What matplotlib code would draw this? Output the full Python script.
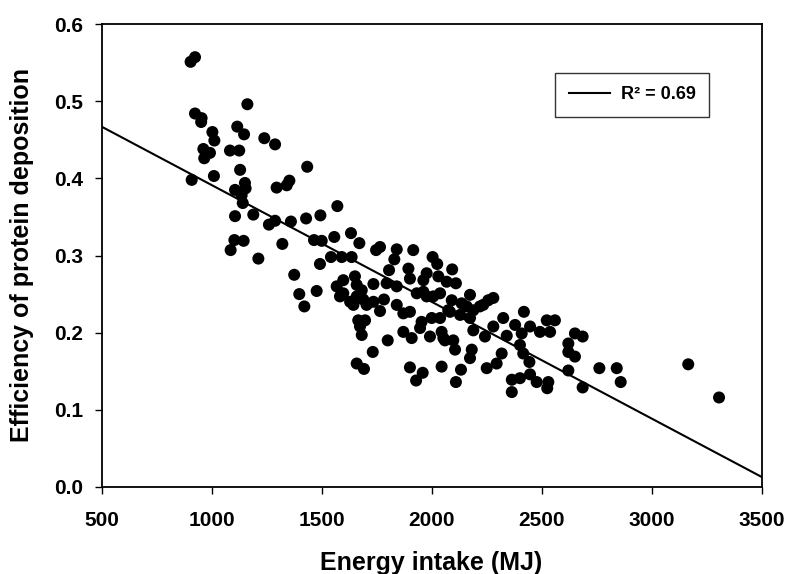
import matplotlib
matplotlib.use("Agg")
import matplotlib.pyplot as plt
import numpy as np

plt.rcParams['font.family'] = ['Liberation Sans', 'DejaVu Sans']
plt.rcParams['font.weight'] = 'bold'

# Data
energy_intake = [
    905, 925, 925, 955, 953, 1163, 1004, 1013, 1117, 1148, 1240, 1289, 963, 993, 967,
    1084, 1126, 1435, 1130, 910, 1011, 1152, 1354, 1342, 1296, 1107, 1155, 1137, 1142,
    1572, 1107, 1190, 1289, 1261, 1361, 1430, 1495, 1104, 1146, 1087, 1322, 1466, 1501,
    1558, 1213, 1493, 1543, 1592,
    1634, 1672, 1637, 1748, 1766, 1842, 1831, 1917, 2005, 2026, 2094, 1895, 1807, 1376,
    1399, 1478, 1422, 1569, 1599, 1652, 1660, 1599, 1630, 1683, 1736, 1796, 1842, 1902,
    1963, 2031, 2069, 2111, 1933, 1978, 2039, 2092, 2137, 2175, 2220, 2258, 1660, 1705,
    1736, 1784, 1766, 1645, 1842, 1872, 1902, 1955, 2001, 2039, 2084, 2130, 2175, 2190,
    2243, 1667, 1698, 1683, 1675, 1801, 1872, 1910, 1948, 1993, 2046, 2061, 2099, 2107,
    1733, 1660, 1693, 1902, 1960, 1930, 2046, 2134, 2111, 2183, 2175, 2251,
    2281, 2420, 2326, 2380, 2448, 2524, 2561, 2539, 2493, 2281, 2342, 2410, 2296, 2319,
    2402, 2417, 2445, 2365, 2402, 2448, 2478, 2531, 2526, 2365, 2622, 2652, 2687, 2622,
    2652, 2622, 2687, 2763, 2842, 2860, 3167, 3307,
    1584, 1690, 1978, 2160, 2235, 2008, 1963, 2076, 2190, 2054,
]
protein_efficiency = [
    0.551, 0.557, 0.484, 0.478, 0.473, 0.496, 0.460, 0.449, 0.467, 0.457, 0.452, 0.444,
    0.438, 0.433, 0.426, 0.436, 0.436, 0.415, 0.411, 0.398, 0.403, 0.394, 0.397, 0.391,
    0.388, 0.385, 0.387, 0.378, 0.368, 0.364, 0.351, 0.353, 0.345, 0.340, 0.344, 0.348,
    0.352, 0.320, 0.319, 0.307, 0.315, 0.320, 0.319, 0.324, 0.296, 0.289, 0.298, 0.298,
    0.329, 0.316, 0.298, 0.307, 0.311, 0.308, 0.295, 0.307, 0.298, 0.289, 0.282, 0.283,
    0.281, 0.275, 0.250, 0.254, 0.234, 0.260, 0.268, 0.273, 0.262, 0.251, 0.240, 0.255,
    0.263, 0.264, 0.260, 0.270, 0.268, 0.273, 0.266, 0.264, 0.251, 0.247, 0.251, 0.242,
    0.238, 0.249, 0.234, 0.242, 0.247, 0.236, 0.240, 0.243, 0.228, 0.236, 0.236, 0.225,
    0.227, 0.214, 0.219, 0.219, 0.227, 0.223, 0.219, 0.203, 0.195, 0.216, 0.216, 0.197,
    0.208, 0.190, 0.201, 0.193, 0.206, 0.195, 0.201, 0.190, 0.190, 0.178, 0.175, 0.160,
    0.153, 0.155, 0.148, 0.138, 0.156, 0.152, 0.136, 0.178, 0.167, 0.154,
    0.245, 0.227, 0.219, 0.210, 0.208, 0.216, 0.216, 0.201, 0.201, 0.208, 0.196, 0.199,
    0.160, 0.173, 0.184, 0.173, 0.162, 0.139, 0.141, 0.146, 0.136, 0.136, 0.128, 0.123,
    0.186, 0.199, 0.195, 0.175, 0.169, 0.151, 0.129, 0.154, 0.154, 0.136, 0.159, 0.116,
    0.247, 0.243, 0.277, 0.234, 0.236, 0.247, 0.253, 0.229, 0.229, 0.193,
]

# Regression line
fit_intercept = 0.5427
fit_slope = -0.0001513
fit_x_range = [500, 3500]
r_squared_label = "R² = 0.69"

x_ticks = [500, 1000, 1500, 2000, 2500, 3000, 3500]
y_ticks = [0.0, 0.1, 0.2, 0.3, 0.4, 0.5, 0.6]

fig = plt.figure(figsize=(7.87, 5.74), dpi=100)
ax = fig.add_axes([101.5 / 787, 1 - 487 / 574, 660 / 787, 463 / 574])

ax.scatter(energy_intake, protein_efficiency, s=75, color='black', edgecolors='none', zorder=3)

fx = np.array(fit_x_range, dtype=float)
fy = fit_intercept + fit_slope * fx
line, = ax.plot(fx, fy, color='black', lw=1.5, zorder=2)

ax.set_xlim(500, 3500)
ax.set_ylim(0, 0.6)
ax.set_xticks(x_ticks)
ax.set_yticks(y_ticks)
ax.set_yticklabels([f"{v:.1f}" for v in y_ticks])
ax.set_xticklabels([str(v) for v in x_ticks])

for s in ax.spines.values():
    s.set_linewidth(1.3)
ax.tick_params(axis='both', direction='out', length=5, width=1, labelsize=15)
ax.tick_params(axis='x', pad=12)
ax.tick_params(axis='y', pad=8)
for lab in ax.get_xticklabels() + ax.get_yticklabels():
    lab.set_fontweight('bold')

ax.set_xlabel("Energy intake (MJ)", fontsize=18, fontweight='bold', va='baseline')
ax.xaxis.set_label_coords(0.5, -0.179)
ax.set_ylabel("Efficiency of protein deposition", fontsize=18, fontweight='bold')
ax.yaxis.set_label_coords(-0.102, 0.5)

leg = ax.legend([line], [r_squared_label], loc='upper left',
                bbox_to_anchor=(555 / 787, 1 - 72.7 / 574), bbox_transform=fig.transFigure,
                borderaxespad=0, fancybox=False, frameon=True, handlelength=2.3,
                handletextpad=0.6, borderpad=0.75, prop={'size': 13, 'weight': 'bold'})
leg.get_frame().set_edgecolor('black')
leg.get_frame().set_linewidth(1.0)

fig.savefig("out.png", dpi=100)
